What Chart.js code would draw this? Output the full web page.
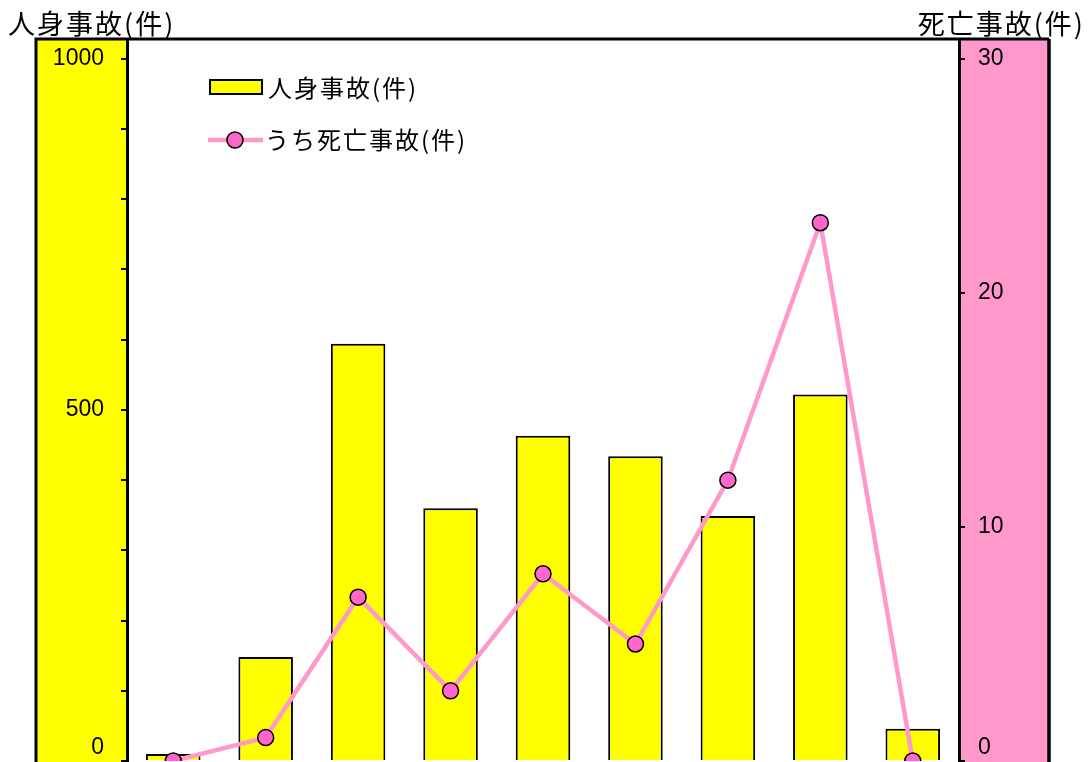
<!DOCTYPE html>
<html lang="ja">
<head>
<meta charset="utf-8">
<script src="https://cdn.jsdelivr.net/npm/chart.js@4.4.1/dist/chart.umd.min.js"></script>
<style>
  html, body { margin: 0; padding: 0; background: #fff; }
</style>
</head>
<body>
<canvas id="grafico" width="1088" height="762"></canvas>
<script>
// dados
const categorias = ['区分1', '区分2', '区分3', '区分4', '区分5', '区分6', '区分7', '区分8', '区分9'];
const jinshinJiko = [10, 148, 594, 360, 463, 434, 349, 522, 46];  // 人身事故(件)
const shiboJiko = [0, 1, 7, 3, 8, 5, 12, 23, 0];                 // うち死亡事故(件)
const labelsEsquerda = [0, 500, 1000];
const labelsDireita = [0, 10, 20, 30];

const FONTE = '"Noto Sans CJK JP", "Noto Sans", sans-serif';
const FONTE_NUM = '"Liberation Sans", Arial, sans-serif';
const AMARELO = '#FFFF00';
const ROSA = '#FF99CC';

// o "0" fica acima do tick (senao corta no fundo), entao vira label de 2 linhas
function labelTick(v, lista) {
  if (!lista.includes(v)) return '';
  return v === 0 ? ['0', ''] : String(v);
}

// sem padding automatico em cima/embaixo, o grafico vai ate a borda
function ajustaEixo(largura) {
  return scale => {
    scale.width = largura;
    scale.paddingTop = 0;
    scale.paddingBottom = 0;
  };
}

// pinta as faixas dos eixos, borda externa, titulos e legenda
const paineis = {
  id: 'paineis',
  beforeDraw(chart) {
    const { ctx, chartArea, scales } = chart;
    ctx.save();
    ctx.fillStyle = AMARELO;
    ctx.fillRect(scales.y.left, chartArea.top, scales.y.right - scales.y.left, chart.height);
    ctx.fillStyle = ROSA;
    ctx.fillRect(scales.y1.left, chartArea.top, scales.y1.right - scales.y1.left, chart.height);
    ctx.restore();
  },
  afterDraw(chart) {
    const { ctx, chartArea, scales } = chart;
    const esq = scales.y.left + 1;
    const dir = scales.y1.right - 1;
    ctx.save();
    ctx.strokeStyle = '#000';
    ctx.lineWidth = 3;
    ctx.beginPath();
    ctx.moveTo(esq, chart.height + 5);
    ctx.lineTo(esq, chartArea.top);
    ctx.lineTo(dir, chartArea.top);
    ctx.stroke();
    ctx.lineWidth = 3.5;
    ctx.beginPath();
    ctx.moveTo(dir, chartArea.top);
    ctx.lineTo(dir, chart.height + 5);
    ctx.stroke();

    // titulos dos eixos
    ctx.fillStyle = '#000';
    ctx.font = '27px ' + FONTE;
    ctx.letterSpacing = '2px';
    ctx.textBaseline = 'middle';
    ctx.textAlign = 'left';
    ctx.fillText('人身事故(件)', 8, 24);
    ctx.textAlign = 'right';
    ctx.fillText('死亡事故(件)', 1085, 24);

    // legenda dentro da area do grafico
    const barra = chart.data.datasets[0];
    const linha = chart.data.datasets[1];
    ctx.font = '24px ' + FONTE;
    ctx.textAlign = 'left';
    ctx.fillStyle = barra.backgroundColor;
    ctx.fillRect(210, 80, 52, 14);
    ctx.lineWidth = 2;
    ctx.strokeStyle = '#000';
    ctx.strokeRect(210, 80, 52, 14);
    ctx.fillStyle = '#000';
    ctx.fillText(barra.label, 268, 88);

    ctx.strokeStyle = linha.borderColor;
    ctx.lineWidth = 4.5;
    ctx.beginPath();
    ctx.moveTo(208, 140);
    ctx.lineTo(263, 140);
    ctx.stroke();
    ctx.beginPath();
    ctx.arc(235, 140, 8, 0, Math.PI * 2);
    ctx.fillStyle = linha.pointBackgroundColor;
    ctx.fill();
    ctx.lineWidth = 1.5;
    ctx.strokeStyle = '#000';
    ctx.stroke();
    ctx.fillStyle = '#000';
    ctx.fillText(linha.label, 265, 140);
    ctx.restore();
  }
};

new Chart(document.getElementById('grafico'), {
  type: 'bar',
  data: {
    labels: categorias,
    datasets: [
      {
        label: '人身事故(件)',
        data: jinshinJiko,
        backgroundColor: AMARELO,
        borderColor: '#000',
        borderWidth: 2,
        barPercentage: 0.59,
        categoryPercentage: 1,
        yAxisID: 'y',
        order: 2
      },
      {
        label: 'うち死亡事故(件)',
        type: 'line',
        data: shiboJiko,
        borderColor: ROSA,
        borderWidth: 4.5,
        pointRadius: 8,
        pointHoverRadius: 8,
        pointBackgroundColor: '#FF66CC',
        pointBorderColor: '#000',
        pointBorderWidth: 1.5,
        tension: 0,
        yAxisID: 'y1',
        order: 1
      }
    ]
  },
  options: {
    responsive: false,
    animation: false,
    layout: { autoPadding: false, padding: { left: 35, right: 38, top: 39, bottom: 1 } },
    plugins: {
      legend: { display: false },
      tooltip: { enabled: false }
    },
    scales: {
      x: {
        display: false,
        offset: true,
        grid: { display: false }
      },
      y: {
        position: 'left',
        min: 0,
        max: 1028,
        afterFit: ajustaEixo(92),
        border: { display: true, color: '#000', width: 3 },
        grid: { drawOnChartArea: false, color: '#000', lineWidth: 2, tickLength: 6 },
        ticks: {
          stepSize: 100,
          includeBounds: false,
          padding: 17,
          color: '#000',
          font: { family: FONTE_NUM, size: 23 },
          callback: v => labelTick(v, labelsEsquerda)
        }
      },
      y1: {
        position: 'right',
        min: 0,
        max: 30.85,
        afterFit: ajustaEixo(91),
        border: { display: true, color: '#000', width: 3 },
        grid: { drawOnChartArea: false, color: '#000', lineWidth: 2, tickLength: 6 },
        ticks: {
          stepSize: 10,
          includeBounds: false,
          padding: 13,
          color: '#000',
          font: { family: FONTE_NUM, size: 23 },
          callback: v => labelTick(v, labelsDireita)
        }
      }
    }
  },
  plugins: [paineis]
});
</script>
</body>
</html>
